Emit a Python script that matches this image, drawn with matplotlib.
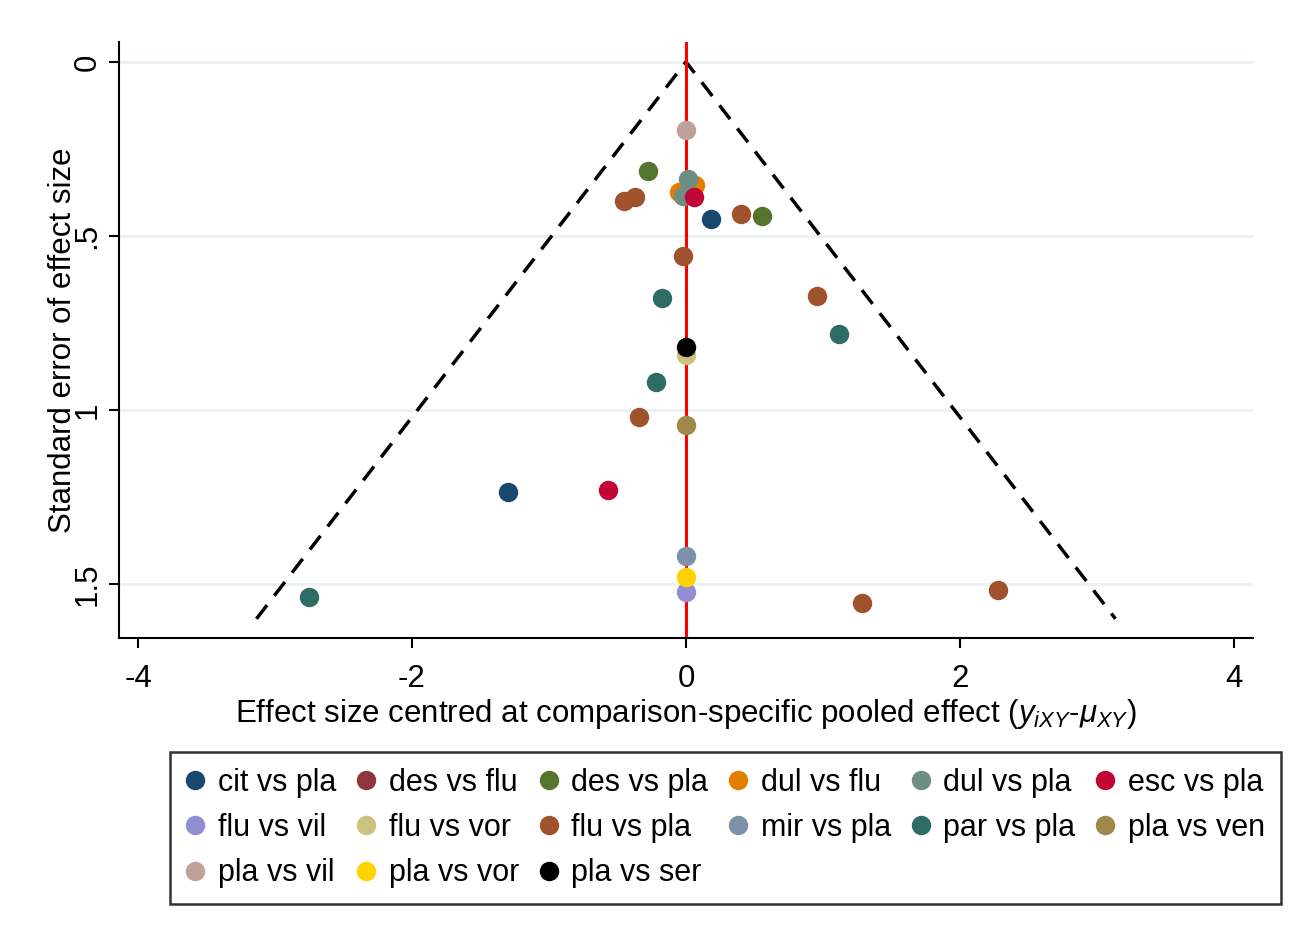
"""Comparison-adjusted funnel plot (Stata style) recreated with matplotlib"""

import numpy as np
import matplotlib
matplotlib.use("Agg")
import matplotlib.pyplot as plt
from matplotlib.lines import Line2D

plt.rcParams['font.family'] = ['Liberation Sans', 'DejaVu Sans']
plt.rcParams['mathtext.fontset'] = 'custom'
plt.rcParams['mathtext.rm'] = 'Liberation Sans'
plt.rcParams['mathtext.it'] = 'Liberation Sans:italic'

# data: comparison -> (centred effect, standard error)
comparisons = ["cit vs pla", "des vs flu", "des vs pla", "dul vs flu", "dul vs pla",
               "esc vs pla", "flu vs vil", "flu vs vor", "flu vs pla", "mir vs pla",
               "par vs pla", "pla vs ven", "pla vs vil", "pla vs vor", "pla vs ser"]
colors = ["#1a476f", "#90353b", "#55752f", "#e37e00", "#6e8e84",
          "#c10534", "#938dd2", "#cac27e", "#a0522d", "#7b92a8",
          "#2d6d66", "#9c8847", "#bfa19c", "#ffd200", "#000000"]

effect = {
    "cit vs pla": [0.18, -1.30],
    "des vs flu": [],
    "des vs pla": [-0.275, 0.553],
    "dul vs flu": [0.066, -0.049],
    "dul vs pla": [0.012, -0.020],
    "esc vs pla": [0.060, -0.569],
    "flu vs vil": [0.0],
    "flu vs vor": [0.0],
    "flu vs pla": [-0.453, -0.372, 0.399, -0.022, 0.956, -0.341, 1.285, 2.277],
    "mir vs pla": [0.0],
    "par vs pla": [-0.175, 1.117, -0.219, -2.752],
    "pla vs ven": [0.0],
    "pla vs vil": [0.0],
    "pla vs vor": [0.0],
    "pla vs ser": [0.0],
}
se = {
    "cit vs pla": [0.452, 1.236],
    "des vs flu": [],
    "des vs pla": [0.315, 0.444],
    "dul vs flu": [0.353, 0.375],
    "dul vs pla": [0.337, 0.385],
    "esc vs pla": [0.389, 1.230],
    "flu vs vil": [1.522],
    "flu vs vor": [0.842],
    "flu vs pla": [0.399, 0.387, 0.437, 0.557, 0.672, 1.021, 1.555, 1.517],
    "mir vs pla": [1.420],
    "par vs pla": [0.678, 0.782, 0.921, 1.537],
    "pla vs ven": [1.043],
    "pla vs vil": [0.197],
    "pla vs vor": [1.481],
    "pla vs ser": [0.820],
}
se_max = 1.6

fig = plt.figure(figsize=(12.9, 9.33), dpi=100)
ax = fig.add_axes([0.0922, 0.3162, 0.8791, 0.6388])

# grid, funnel and reference line
for yv in [0, 0.5, 1, 1.5]:
    ax.axhline(yv, color="#eaf2f3", lw=2.2, zorder=0)
ax.plot([-1.96 * se_max, 0, 1.96 * se_max], [se_max, 0, se_max],
        color="black", ls=(0, (5, 3.4)), lw=2.5, zorder=1)
ax.axvline(0, color="red", lw=2.2, zorder=2)

handles = []
for name, col in zip(comparisons, colors):
    ax.plot(effect[name], se[name], 'o', color=col, ms=14, mew=0, zorder=3)
    handles.append(Line2D([], [], marker='o', ls='', color=col, ms=14, mew=0))

# axes
ax.set_xlim(-4.14, 4.14)
ax.set_ylim(1.655, -0.057)
ax.set_xticks([-4, -2, 0, 2, 4])
ax.set_xticklabels(["-4", "-2", "0", "2", "4"])
ax.set_yticks([0, 0.5, 1, 1.5])
ax.set_yticklabels(["0", ".5", "1", "1.5"], rotation=90, va="center")
ax.spines["top"].set_visible(False)
ax.spines["right"].set_visible(False)
for s in ["left", "bottom"]:
    ax.spines[s].set_linewidth(1.5)
ax.tick_params(direction="out", length=7, width=1.5, labelsize=22.5)
ax.tick_params(axis="x", pad=12)
ax.tick_params(axis="y", pad=5)

ax.set_ylabel("Standard error of effect size", fontsize=22.5)
ax.yaxis.set_label_coords(-0.036, 0.5)
ax.set_xlabel(r"Effect size centred at comparison-specific pooled effect ($y_{iXY}$-$\mu_{XY}$)",
              fontsize=22.5)
ax.xaxis.set_label_coords(0.5, -0.099)

# legend, filled row by row (matplotlib fills columns first)
ncol = 6
order = [i for c in range(ncol) for i in range(c, len(comparisons), ncol)]
leg = fig.legend([handles[i] for i in order], [comparisons[i] for i in order],
                 ncol=ncol, loc="upper left",
                 bbox_to_anchor=(170 / 1290, 1 - 900 / 933, 1111 / 1290, 148 / 933),
                 mode="expand", fontsize=22, frameon=True, fancybox=False,
                 edgecolor="black", handlelength=0.6, handletextpad=0.45,
                 labelspacing=0.5, borderaxespad=0, borderpad=0.52,
                 columnspacing=0.6)
leg.get_frame().set_linewidth(1.8)

fig.savefig("out.png")
